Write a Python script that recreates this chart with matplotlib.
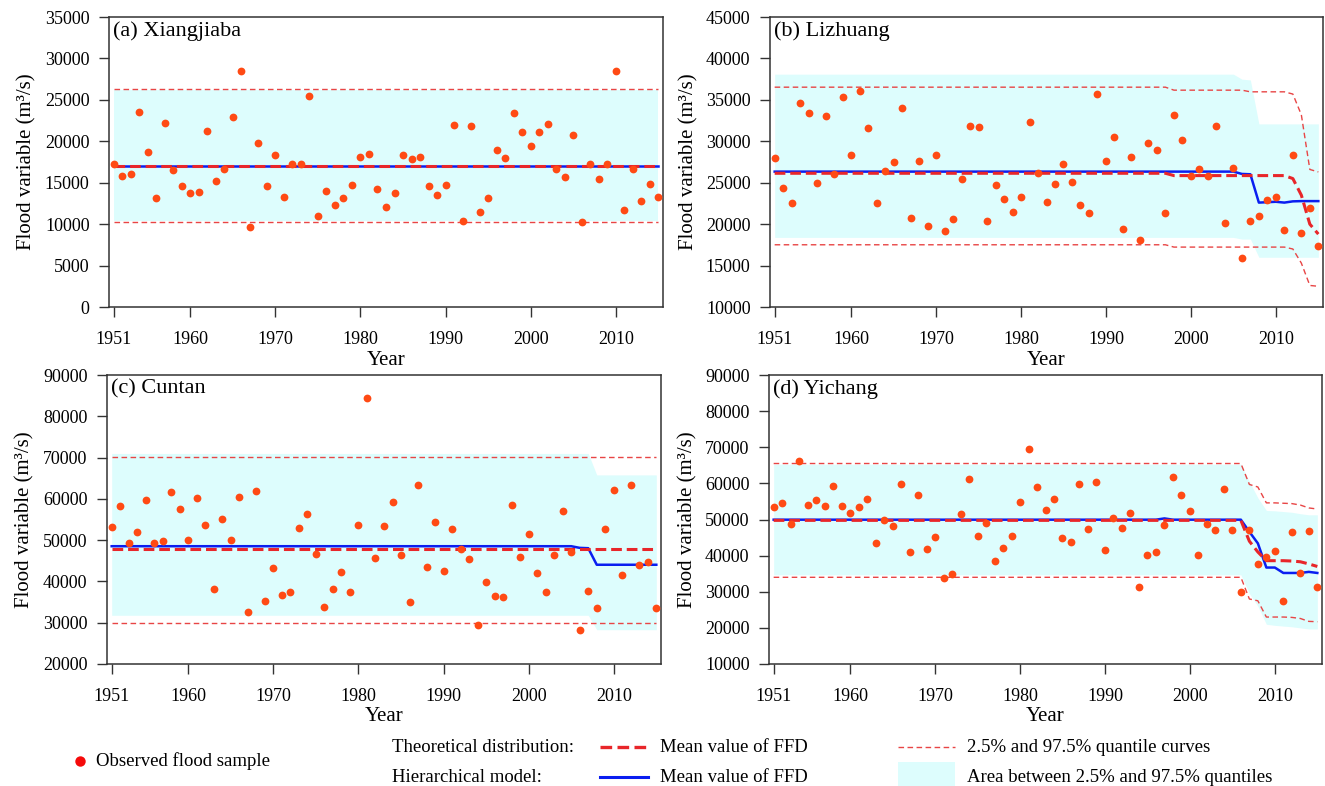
import matplotlib
matplotlib.use('Agg')
import matplotlib.pyplot as plt
from matplotlib.lines import Line2D
from matplotlib.patches import Rectangle
import numpy as np

plt.rcParams['font.family'] = ['Liberation Serif', 'DejaVu Serif']

W, H = 1325, 786

years = np.arange(1951, 2016)
x_ticks = [1951, 1960, 1970, 1980, 1990, 2000, 2010]

# (a) Xiangjiaba
obs_a = [17220, 15860, 16100, 23520, 18670, 13210, 22200, 16580, 14570, 13810,
         13890, 21240, 15250, 16700, 22920, 28500, 9670, 19750, 14650, 18300,
         13330, 17220, 17220, 25490, 11000, 14050, 12360, 13210, 14770, 18060,
         18430, 14290, 12120, 13810, 18300, 17820, 18060, 14570, 13570, 14770,
         21960, 10400, 21840, 11520, 13210, 18910, 17950, 23400, 21080, 19390,
         21080, 22080, 16620, 15740, 20710, 10280, 17220, 15500, 17220, 28500,
         11720, 16700, 12850, 14890, 13290]
theo_a = [17020] * 65
hier_a = [17000] * 65
q_hi_a = [26290] * 65
q_lo_a = [10280] * 65
band_hi_a = [26150] * 65
band_lo_a = [10400] * 65

# (b) Lizhuang
obs_b = [27940, 24410, 22610, 34650, 33400, 25010, 33040, 26100, 35330, 28310,
         36090, 31600, 22610, 26460, 27460, 34010, 20800, 27580, 19800, 28310,
         19230, 20680, 25420, 31840, 31720, 20320, 24770, 23090, 21480, 23330,
         32320, 26220, 22730, 24890, 27220, 25130, 22360, 21400, 35730, 27580,
         30470, 19430, 28060, 18110, 29750, 28910, 21400, 33160, 30110, 25860,
         26620, 25860, 31840, 20160, 26740, 15900, 20400, 21000, 22930, 23330,
         19310, 28310, 18950, 22000, 17350]
theo_b = [26140] * 47 + [25860] * 14 + [25500, 23500, 20000, 18800]
hier_b = [26340] * 55 + [26060, 26020, 22600, 22650, 22700, 22600, 22750,
                         22780, 22780, 22780]
q_hi_b = [36530] * 47 + [36170] * 9 + [35970] * 5 + [35700, 33200, 26600, 26300]
q_lo_b = [17510] * 47 + [17230] * 14 + [17000, 15300, 12600, 12500]
band_hi_b = [38100] * 55 + [37500, 37400] + [32100] * 8
band_lo_b = [18400] * 55 + [18200, 18200] + [16000] * 8

# (c) Cuntan
obs_c = [53260, 58150, 49330, 52060, 59840, 49330, 49810, 61760, 57590, 50130,
         60320, 53740, 38260, 55190, 50130, 60560, 32650, 62000, 35290, 43320,
         36740, 37460, 53020, 56230, 46680, 33850, 38260, 42350, 37460, 53740,
         84380, 45720, 53500, 59120, 46440, 35050, 63450, 43560, 54460, 42590,
         52780, 47970, 45480, 29520, 39950, 36500, 36260, 58400, 45960, 51580,
         42110, 37460, 46440, 56950, 47170, 28240, 37700, 33610, 52780, 62240,
         41630, 63290, 44040, 44600, 33610]
theo_c = [47970] * 65
hier_c = [48530] * 55 + [48130, 48050] + [44040] * 8
q_hi_c = [70100] * 65
q_lo_c = [30000] * 65
band_hi_c = [71000] * 57 + [65800] * 8
band_lo_c = [31800] * 57 + [28300] * 8

# (d) Yichang
obs_d = [53350, 54450, 48660, 66210, 53900, 55370, 53620, 59410, 53620, 51690,
         53350, 55550, 43610, 49850, 48290, 59780, 41130, 56740, 41950, 45260,
         33870, 34970, 51420, 61150, 45540, 49120, 38650, 42230, 45540, 54720,
         69510, 58950, 52520, 55550, 44990, 43880, 59780, 47470, 60330, 41680,
         50310, 47740, 51690, 31390, 40300, 41130, 48390, 61710, 56740, 52240,
         40300, 48660, 47190, 58400, 47010, 30010, 47010, 37730, 39660, 41400,
         27530, 46460, 35060, 46910, 31390]
theo_d = [49760] * 56 + [44000, 41000, 38600, 38600, 38600, 38500, 38300,
                         37700, 37000]
hier_d = [49950] * 46 + [50300] + [49950] * 9 + [46600, 43400, 36700, 36700,
                                                 35200, 35200, 35200, 35500, 35200]
q_hi_d = [65500] * 56 + [59700, 59000, 54600, 54600, 54500, 54400, 54000,
                         53200, 52900]
q_lo_d = [34000] * 56 + [28000, 27500, 23000, 23000, 23000, 22900, 22600,
                         21800, 21700]
band_hi_d = [65300] * 56 + [60500, 56000, 52500, 52400, 52200, 52000, 51600,
                            51300, 51300]
band_lo_d = [34700] * 56 + [29500, 26000, 21000, 20700, 20500, 20300, 20000,
                            19700, 19700]

PANELS = [
  ('(a) Xiangjiaba', obs_a, theo_a, hier_a, q_hi_a, q_lo_a, band_hi_a, band_lo_a,
   (0, 35000), np.arange(0, 35001, 5000), (109, 17, 663, 307)),
  ('(b) Lizhuang', obs_b, theo_b, hier_b, q_hi_b, q_lo_b, band_hi_b, band_lo_b,
   (10000, 45000), np.arange(10000, 45001, 5000), (770, 17, 1323, 307)),
  ('(c) Cuntan', obs_c, theo_c, hier_c, q_hi_c, q_lo_c, band_hi_c, band_lo_c,
   (20000, 90000), np.arange(20000, 90001, 10000), (107, 375, 661, 664)),
  ('(d) Yichang', obs_d, theo_d, hier_d, q_hi_d, q_lo_d, band_hi_d, band_lo_d,
   (10000, 90000), np.arange(10000, 90001, 10000), (769, 375, 1322, 664)),
]

FILL = '#DDFDFD'
RED = '#E8262A'
QRED = '#E84545'
BLUE = '#0A1EF0'
DOT = '#FF4A14'
AXC = '#333333'


def px_rect(l, t, r, b):
  return [l / W, 1 - b / H, (r - l) / W, (b - t) / H]


fig = plt.figure(figsize=(W / 100.0, H / 100.0), dpi=100)

for (title, obs, theo, hier, qhi, qlo, bhi, blo, ylim, yt, box) in PANELS:
  ax = fig.add_axes(px_rect(*box))
  ax.fill_between(years, blo, bhi, color=FILL, lw=0, zorder=1)
  ax.plot(years, qhi, color=QRED, lw=1.0, ls=(0, (4, 2.5)), zorder=2)
  ax.plot(years, qlo, color=QRED, lw=1.0, ls=(0, (4, 2.5)), zorder=2)
  ax.plot(years, hier, color=BLUE, lw=1.8, zorder=3)
  ax.plot(years, theo, color=RED, lw=2.2, ls=(0, (3.5, 1.6)), zorder=4)
  ax.plot(years, obs, 'o', color=DOT, ms=5.6, mec='none', zorder=5)

  ax.set_xlim(1950.45, 2015.55)
  ax.set_ylim(*ylim)
  ax.set_xticks(x_ticks)
  ax.set_yticks(yt)
  ax.tick_params(direction='out', length=7, width=1, color=AXC,
                 labelsize=13, pad=7)
  ax.tick_params(axis='x', pad=10)
  for s in ax.spines.values():
    s.set_linewidth(1.1)
    s.set_color(AXC)

  ax.set_xlabel('Year', fontsize=15)
  ax.xaxis.set_label_coords(0.5, -0.15)
  ax.set_ylabel('Flood variable (m³/s)', fontsize=15)
  ax.yaxis.set_label_coords(-0.13, 0.5)
  ax.text(0.008, 0.985, title, transform=ax.transAxes, fontsize=16,
          va='top', ha='left')

# legend drawn by hand at the bottom
def fx(p):
  return p / W


def fy(p):
  return 1 - p / H


fig.add_artist(Line2D([fx(80)], [fy(761)], marker='o', color='#F50A0A',
                      ms=7.5, mec='none', ls='none'))
fig.text(fx(96), fy(761), 'Observed flood sample', fontsize=13.5, va='center')

fig.text(fx(392), fy(747), 'Theoretical distribution:', fontsize=13.5, va='center')
fig.text(fx(392), fy(777), 'Hierarchical model:', fontsize=13.5, va='center')
fig.add_artist(Line2D([fx(600), fx(648)], [fy(747), fy(747)], color=RED,
                      lw=2.4, ls=(0, (3.5, 1.6))))
fig.add_artist(Line2D([fx(600), fx(648)], [fy(777), fy(777)], color=BLUE, lw=2.2))
fig.text(fx(660), fy(747), 'Mean value of FFD', fontsize=13.5, va='center')
fig.text(fx(660), fy(777), 'Mean value of FFD', fontsize=13.5, va='center')

fig.add_artist(Line2D([fx(898), fx(955)], [fy(747), fy(747)], color=QRED,
                      lw=1.0, ls=(0, (4, 2.5))))
fig.text(fx(967), fy(747), '2.5% and 97.5% quantile curves', fontsize=13.5,
         va='center')
fig.add_artist(Rectangle((fx(898), fy(786)), fx(57), 24.0 / H,
                         transform=fig.transFigure, color=FILL, lw=0))
fig.text(fx(967), fy(777), 'Area between 2.5% and 97.5% quantiles',
         fontsize=13.5, va='center')

fig.savefig('out.png', dpi=100)
